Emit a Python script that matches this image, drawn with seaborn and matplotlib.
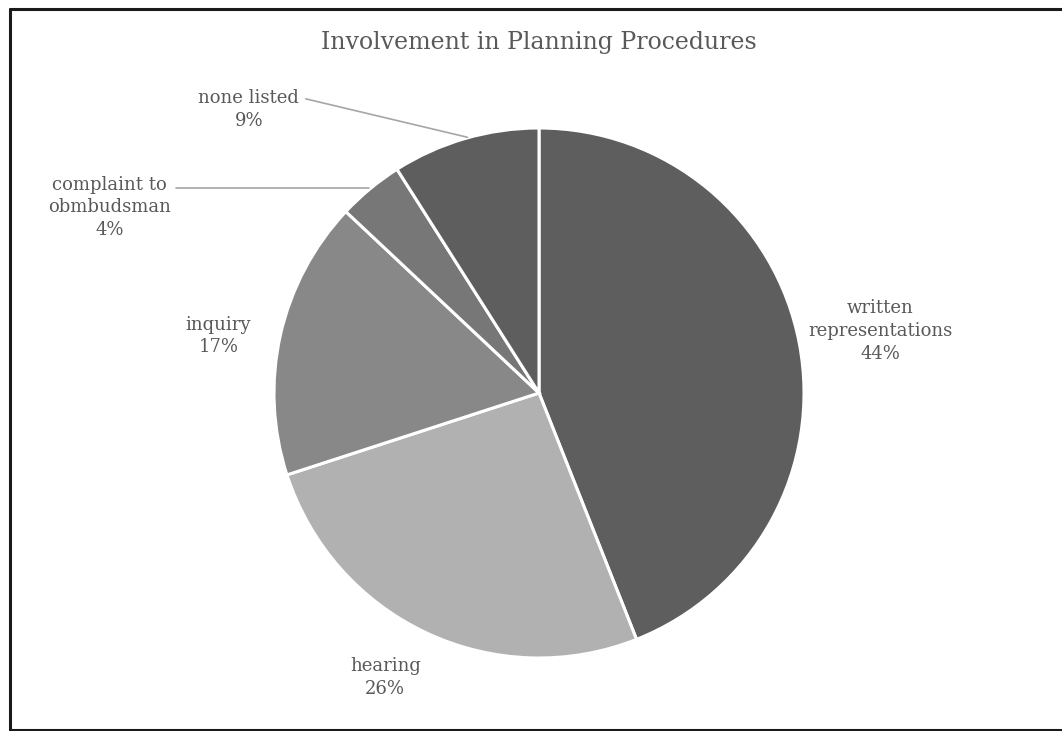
import matplotlib
matplotlib.use("Agg")
import matplotlib.pyplot as plt
import seaborn as sns
from matplotlib.lines import Line2D

sns.set_theme(style="white")
plt.rcParams["font.family"] = ["DejaVu Serif"]

# Share of involvement by planning procedure (%)
categories = ["written\nrepresentations", "hearing", "inquiry",
              "complaint to\nobmbudsman", "none listed"]
shares = [44, 26, 17, 4, 9]
slice_colors = ["#5e5e5e", "#b1b1b1", "#888888", "#777777", "#5e5e5e"]

# label anchor positions in pie units (radius = 1)
label_xy = [(1.287, 0.235), (-0.58, -1.075), (-1.21, 0.215),
            (-1.62, 0.70), (-1.095, 1.07)]
# leader lines: (text end, wedge edge) for the small slices
leaders = {3: ((-1.37, 0.775), (-0.64, 0.775)),
           4: ((-0.88, 1.11), (-0.27, 0.965))}

W, H = 1062, 731
fig = plt.figure(figsize=(W / 100, H / 100), dpi=100)
fig.patch.set_facecolor("white")
ax = fig.add_axes([0, 0, 1, 1])

ax.pie(shares, colors=slice_colors, startangle=90, counterclock=False,
       radius=1.0, wedgeprops=dict(edgecolor="white", linewidth=2.2))

cx, cy, r = 539, 731 - 393, 265
ax.set_aspect("auto")
ax.set_xlim(-cx / r, (W - cx) / r)
ax.set_ylim(-cy / r, (H - cy) / r)
ax.set_axis_off()

text_color = "#595959"
for i, (cat, val) in enumerate(zip(categories, shares)):
    x, y = label_xy[i]
    ax.text(x, y, f"{cat}\n{val}%", ha="center", va="center",
            fontsize=13, color=text_color, linespacing=1.35)

for (x0, y0), (x1, y1) in leaders.values():
    ax.plot([x0, x1], [y0, y1], color="#a6a6a6", lw=1.2)

fig.text(cx / W, 1 - 42 / H, "Involvement in Planning Procedures",
         ha="center", va="center", fontsize=17, color=text_color)

# outer frame
frame_kw = dict(color="#1a1a1a", lw=2.2, transform=fig.transFigure)
left, top, bottom = 9.5 / W, 1 - 8.5 / H, 1 - 729.5 / H
fig.add_artist(Line2D([left, 1.01], [top, top], **frame_kw))
fig.add_artist(Line2D([left, 1.01], [bottom, bottom], **frame_kw))
fig.add_artist(Line2D([left, left], [bottom, top], **frame_kw))

fig.savefig("out.png", dpi=100, facecolor="white")
